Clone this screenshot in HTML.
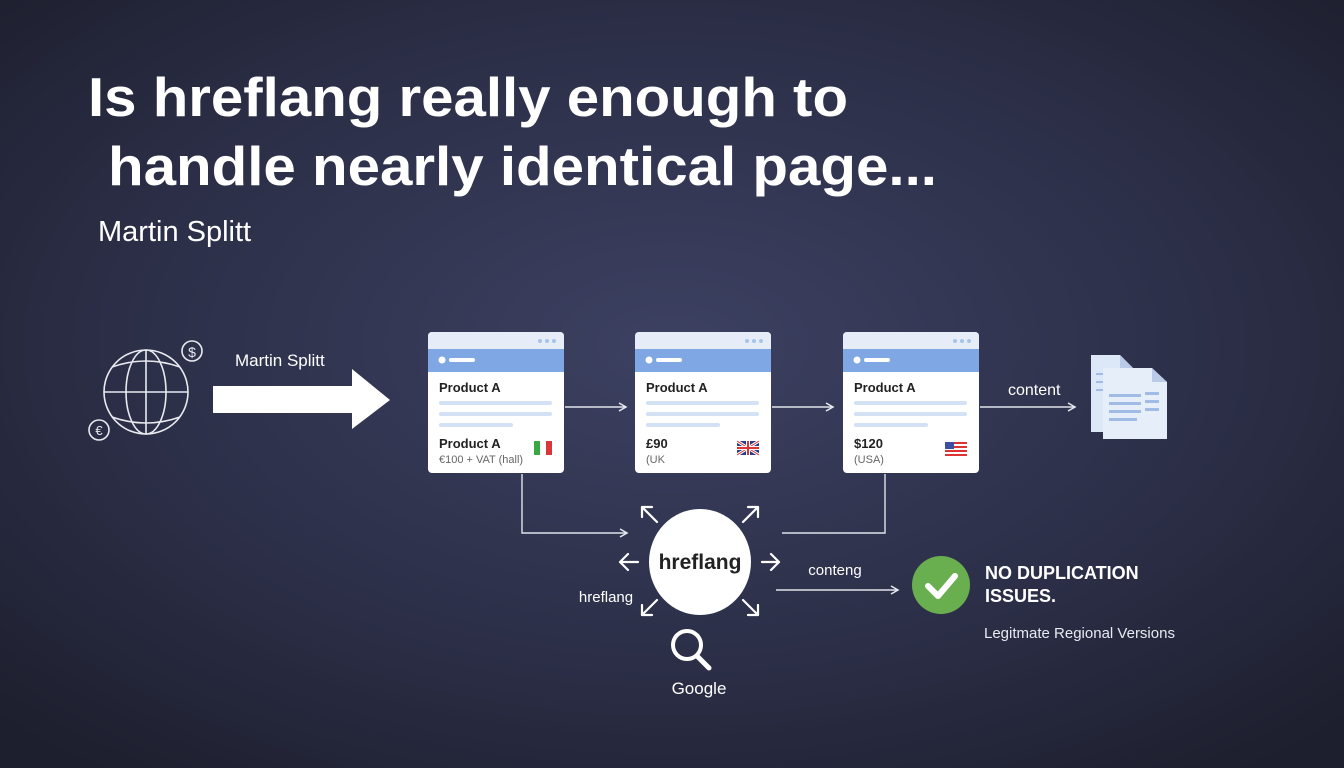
<!DOCTYPE html>
<html><head><meta charset="utf-8"><style>
html,body{margin:0;padding:0;width:1344px;height:768px;overflow:hidden;background:#23263a}
svg{display:block}
text{font-family:"Liberation Sans",sans-serif}
</style></head><body>
<svg width="1344" height="768" viewBox="0 0 1344 768" xmlns="http://www.w3.org/2000/svg">
<defs>
<radialGradient id="bg" cx="0.5" cy="0.45" r="0.7">
<stop offset="0" stop-color="#3d4162"/>
<stop offset="0.6" stop-color="#2b2e46"/>
<stop offset="1" stop-color="#1d1f2e"/>
</radialGradient>
<marker id="ah" markerWidth="10" markerHeight="10" refX="8" refY="5" orient="auto" markerUnits="userSpaceOnUse">
<path d="M1,1 L8,5 L1,9" fill="none" stroke="#e8eaf0" stroke-width="1.5"/>
</marker>
<g id="card">
<rect x="0" y="0" width="136" height="141" rx="4" fill="#ffffff"/>
<path d="M4,0 H132 A4,4 0 0 1 136,4 V17 H0 V4 A4,4 0 0 1 4,0Z" fill="#e6edf8"/>
<rect x="0" y="17" width="136" height="23" fill="#7ea7e4"/>
<circle cx="14" cy="28" r="3.5" fill="#fff"/>
<rect x="21" y="26" width="26" height="4" rx="2" fill="#fff"/>
<circle cx="112" cy="9" r="2" fill="#a9c3ec"/><circle cx="119" cy="9" r="2" fill="#a9c3ec"/><circle cx="126" cy="9" r="2" fill="#a9c3ec"/>
<text x="11" y="60" font-size="13" font-weight="bold" fill="#222">Product A</text>
<rect x="11" y="69" width="113" height="4" rx="2" fill="#d3e1f5"/>
<rect x="11" y="80" width="113" height="4" rx="2" fill="#d3e1f5"/>
<rect x="11" y="91" width="74" height="4" rx="2" fill="#d3e1f5"/>
</g>
</defs>
<rect width="1344" height="768" fill="url(#bg)"/>

<text x="88" y="116" font-size="55" font-weight="bold" fill="#fff" textLength="760" lengthAdjust="spacingAndGlyphs">Is hreflang really enough to</text>
<text x="108" y="185" font-size="55" font-weight="bold" fill="#fff" textLength="829" lengthAdjust="spacingAndGlyphs">handle nearly identical page...</text>
<text x="98" y="241" font-size="29" fill="#fff">Martin Splitt</text>

<!-- globe -->
<g fill="none" stroke="#e8eaf0" stroke-width="1.6">
<circle cx="146" cy="392" r="42"/>
<ellipse cx="146" cy="392" rx="20" ry="42"/>
<line x1="146" y1="350" x2="146" y2="434"/>
<line x1="104" y1="392" x2="188" y2="392"/>
<path d="M112,367 Q146,355 180,367"/><path d="M112,417 Q146,429 180,417"/>
<circle cx="192" cy="351" r="10"/>
<circle cx="99" cy="430" r="10"/>
</g>
<text x="192" y="357" font-size="14" fill="#e8eaf0" text-anchor="middle">$</text>
<text x="99" y="435" font-size="13" fill="#e8eaf0" text-anchor="middle">€</text>
<text x="235" y="366" font-size="17" fill="#fff">Martin Splitt</text>
<path d="M213,386 H352 V369 L390,400 L352,429 V413 H213Z" fill="#fff"/>

<!-- cards -->
<use href="#card" x="428" y="332"/>
<use href="#card" x="635" y="332"/>
<use href="#card" x="843" y="332"/>
<text x="439" y="448" font-size="13" font-weight="bold" fill="#222">Product A</text>
<text x="439" y="463" font-size="11" fill="#666">€100 + VAT (hall)</text>
<rect x="534" y="441" width="6" height="14" fill="#3aa845"/><rect x="540" y="441" width="6" height="14" fill="#fff"/><rect x="546" y="441" width="6" height="14" fill="#d9373a"/>
<text x="646" y="448" font-size="13" font-weight="bold" fill="#222">£90</text>
<text x="646" y="463" font-size="11" fill="#666">(UK</text>
<g transform="translate(737,441)">
<rect width="22" height="14" fill="#2a3f8a"/>
<path d="M0,0 L22,14 M22,0 L0,14" stroke="#fff" stroke-width="3"/>
<path d="M0,0 L22,14 M22,0 L0,14" stroke="#d33" stroke-width="1"/>
<path d="M11,0 V14 M0,7 H22" stroke="#fff" stroke-width="4"/>
<path d="M11,0 V14 M0,7 H22" stroke="#d33" stroke-width="2"/>
</g>
<text x="854" y="448" font-size="13" font-weight="bold" fill="#222">$120</text>
<text x="854" y="463" font-size="11" fill="#666">(USA)</text>
<g transform="translate(945,442)">
<rect width="22" height="14" fill="#fff"/>
<rect y="0" width="22" height="2" fill="#d33"/><rect y="4" width="22" height="2" fill="#d33"/><rect y="8" width="22" height="2" fill="#d33"/><rect y="12" width="22" height="2" fill="#d33"/>
<rect width="9" height="7" fill="#3b4fa0"/>
</g>

<g fill="none" stroke="#e0e3ea" stroke-width="1.4">
<line x1="565" y1="407" x2="626" y2="407" marker-end="url(#ah)"/>
<line x1="772" y1="407" x2="833" y2="407" marker-end="url(#ah)"/>
<line x1="980" y1="407" x2="1075" y2="407" marker-end="url(#ah)"/>
<path d="M522,474 V533 H627" marker-end="url(#ah)"/>
<path d="M885,474 V533 H782"/>
<line x1="776" y1="590" x2="898" y2="590" marker-end="url(#ah)"/>
</g>
<text x="1008" y="395" font-size="16" fill="#fff">content</text>

<!-- docs -->
<g>
<path d="M1091,355 H1120 L1133,368 V432 H1091Z" fill="#dce7f7"/>
<path d="M1120,355 V368 H1133Z" fill="#b9cbe8"/>
<rect x="1096" y="373" width="20" height="2" fill="#9fbbe6"/>
<rect x="1096" y="381" width="8" height="2" fill="#9fbbe6"/>
<rect x="1096" y="389" width="8" height="2" fill="#9fbbe6"/>
<path d="M1103,368 H1152 L1167,382 V439 H1103Z" fill="#e6eefa"/>
<path d="M1152,368 V382 H1167Z" fill="#b9cbe8"/>
<rect x="1109" y="394" width="32" height="3" fill="#9fbbe6"/>
<rect x="1109" y="402" width="32" height="3" fill="#9fbbe6"/>
<rect x="1109" y="410" width="32" height="3" fill="#9fbbe6"/>
<rect x="1109" y="418" width="28" height="3" fill="#9fbbe6"/>
<rect x="1145" y="392" width="14" height="3" fill="#9fbbe6"/>
<rect x="1145" y="400" width="14" height="3" fill="#9fbbe6"/>
<rect x="1145" y="408" width="14" height="3" fill="#9fbbe6"/>
</g>

<!-- hreflang circle -->
<ellipse cx="700" cy="562" rx="51" ry="53" fill="#fff"/>
<text x="700" y="569" font-size="21" font-weight="bold" fill="#222" text-anchor="middle">hreflang</text>
<g fill="none" stroke="#fff" stroke-width="2.2" stroke-linecap="round" stroke-linejoin="round">
<path d="M657,522 L642,507 M642,517 V507 H652"/>
<path d="M743,522 L758,507 M748,507 H758 V517"/>
<path d="M657,600 L642,615 M642,605 V615 H652"/>
<path d="M743,600 L758,615 M758,605 V615 H748"/>
<path d="M638,562 H620 M628,554 L620,562 L628,570"/>
<path d="M762,562 H779 M771,554 L779,562 L771,570"/>
</g>
<text x="606" y="602" font-size="15" fill="#fff" text-anchor="middle">hreflang</text>
<text x="835" y="575" font-size="15" fill="#fff" text-anchor="middle">conteng</text>
<circle cx="687" cy="645" r="14" fill="none" stroke="#fff" stroke-width="4"/>
<line x1="697" y1="656" x2="709" y2="668" stroke="#fff" stroke-width="5" stroke-linecap="round"/>
<text x="699" y="694" font-size="17" fill="#fff" text-anchor="middle">Google</text>

<circle cx="941" cy="585" r="29" fill="#6aaf4f"/>
<path d="M928,586 L938,596 L955,576" fill="none" stroke="#fff" stroke-width="6" stroke-linecap="round" stroke-linejoin="round"/>
<text x="985" y="579" font-size="18" font-weight="bold" fill="#fff">NO DUPLICATION</text>
<text x="985" y="602" font-size="18" font-weight="bold" fill="#fff">ISSUES.</text>
<text x="984" y="638" font-size="15" fill="#e8eaf0">Legitmate Regional Versions</text>
</svg>
</body></html>
